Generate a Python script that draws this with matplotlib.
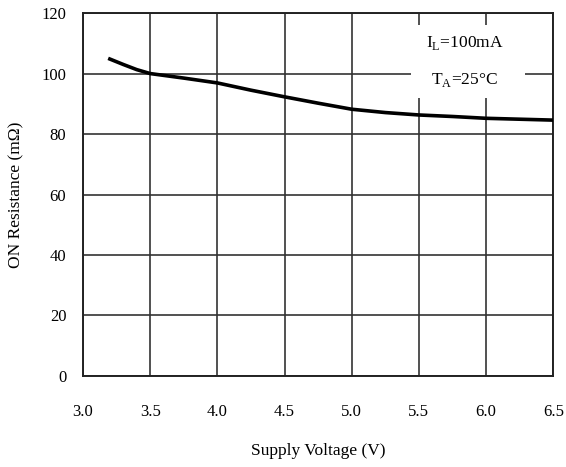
import numpy as np
import matplotlib.pyplot as plt
from matplotlib.patches import Rectangle

plt.rcParams['font.family'] = ['Liberation Serif', 'DejaVu Serif']

voltage = [3.2, 3.3, 3.4, 3.5, 3.75, 4.0, 4.25, 4.5, 4.75, 5.0, 5.25, 5.5, 5.75, 6.0, 6.25, 6.5]
resistance = [104.8, 103.0, 101.3, 100.0, 98.5, 96.9, 94.5, 92.3, 90.2, 88.2, 87.1, 86.3, 85.8, 85.2, 84.9, 84.6]
xticks = [3.0, 3.5, 4.0, 4.5, 5.0, 5.5, 6.0, 6.5]
yticks = [0, 20, 40, 60, 80, 100, 120]

fig = plt.figure(figsize=(5.66, 4.67), dpi=100)
ax = fig.add_axes([0.1466, 0.195, 0.831, 0.777])

ax.plot(voltage, resistance, color="black", lw=2.6, zorder=3)

ax.set_xlim(3.0, 6.5)
ax.set_ylim(0, 120)
ax.set_xticks(xticks)
ax.set_xticklabels(["%.1f" % t for t in xticks])
ax.set_yticks(yticks)
ax.grid(True, color="#333333", lw=1.2)
ax.set_axisbelow(True)
for s in ax.spines.values():
    s.set_color("#222222")
    s.set_linewidth(1.4)
ax.tick_params(length=0, labelsize=12)
ax.tick_params(axis="x", pad=20)
ax.tick_params(axis="y", pad=12)

ax.set_xlabel("Supply Voltage (V)", fontsize=12.5, labelpad=17)
ax.set_ylabel("ON Resistance (m\u03a9)", fontsize=12.5, labelpad=12)

# white box behind the conditions text
ax.add_patch(Rectangle((5.44, 92), 0.85, 24, facecolor="white", edgecolor="none", zorder=2))
ax.text(5.84, 110.1, "I$_\\mathregular{L}$=100mA", ha="center", va="center", fontsize=12.5, zorder=4)
ax.text(5.84, 97.9, "T$_\\mathregular{A}$=25\u00b0C", ha="center", va="center", fontsize=12.5, zorder=4)

fig.savefig("out.png", dpi=100)
